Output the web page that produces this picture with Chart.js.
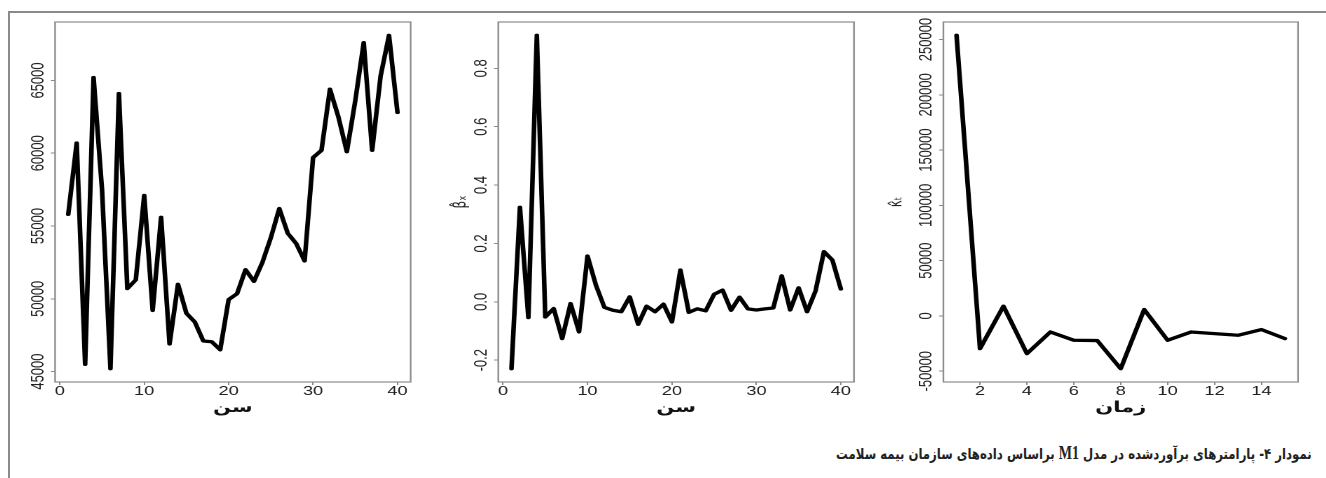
<!DOCTYPE html>
<html lang="fa">
<head>
<meta charset="utf-8">
<script src="https://cdn.jsdelivr.net/npm/chart.js@4.4.0/dist/chart.umd.min.js"></script>
<style>
  html, body { margin: 0; padding: 0; background: #fff; }
  body { width: 1326px; height: 478px; position: relative; overflow: hidden; }
  #frame { position: absolute; left: 8px; top: 11px; right: 0; bottom: 0;
           border-top: 2px solid #8a8a8a; border-left: 2px solid #8a8a8a; }
  .panel { position: absolute; top: 0; height: 430px; transform-origin: 0 0; transform: scaleX(1.4); }
  #caption { position: absolute; right: 14px; top: 443px; direction: rtl; white-space: nowrap;
             font: bold 15px "DejaVu Sans", sans-serif; color: #222;
             transform-origin: 100% 50%; transform: scaleX(0.78); }
  #caption .m1 { font-family: "Liberation Serif", serif; font-size: 18px; }
</style>
</head>
<body>
<div id="frame"></div>
<div class="panel" id="p1"><canvas></canvas></div>
<div class="panel" id="p2"><canvas></canvas></div>
<div class="panel" id="p3"><canvas></canvas></div>
<div id="caption">نمودار ۴- پارامترهای برآوردشده در مدل <span class="m1">M1</span> براساس داده‌های سازمان بیمه سلامت</div>
<script>
// ages 1..40 and years 1..15
const ages = [1, 2, 3, 4, 5, 6, 7, 8, 9, 10, 11, 12, 13, 14, 15, 16, 17, 18, 19, 20,
              21, 22, 23, 24, 25, 26, 27, 28, 29, 30, 31, 32, 33, 34, 35, 36, 37, 38, 39, 40];
const times = [1, 2, 3, 4, 5, 6, 7, 8, 9, 10, 11, 12, 13, 14, 15];

// alpha_x
const alphaX = [55800, 60700, 45500, 65200, 57500, 45200, 64100, 50700, 51300, 57100,
                49200, 55600, 46900, 51000, 49000, 48400, 47100, 47050, 46500, 49950,
                50350, 52000, 51200, 52500, 54200, 56200, 54500, 53800, 52600, 59700,
                60200, 64400, 62500, 60100, 63600, 67600, 60200, 65300, 68100, 62800];

// beta_x (middle panel)
const betaX = [-0.229, 0.324, -0.054, 0.913, -0.052, -0.023, -0.126, -0.006, -0.103, 0.157,
               0.057, -0.019, -0.029, -0.034, 0.017, -0.077, -0.015, -0.034, -0.008, -0.069,
               0.109, -0.036, -0.024, -0.031, 0.026, 0.040, -0.029, 0.016, -0.024, -0.028,
               -0.024, -0.021, 0.089, -0.028, 0.048, -0.034, 0.037, 0.172, 0.143, 0.044];

// kappa_t (right panel)
const kappaT = [253800, -29600, 8800, -34100, -14500, -22000, -22300, -47700, 5800, -22000,
                -14500, -16000, -17500, -12300, -20500];

// tick labels
const ageTicks = [0, 10, 20, 30, 40];
const timeTicks = [2, 4, 6, 8, 10, 12, 14];
const alphaTicks = [45000, 50000, 55000, 60000, 65000];
const betaTicks = [-0.2, 0.0, 0.2, 0.4, 0.6, 0.8];
const kappaTicks = [-50000, 0, 50000, 100000, 150000, 200000, 250000];

const S = 1.4; // the source figure is stretched sideways, so each panel is too

// R style axis range: data range plus 4% each side
function rRange(vals) {
  const lo = Math.min(...vals), hi = Math.max(...vals), d = (hi - lo) * 0.04;
  return [lo - d, hi + d];
}

const panels = [
  { id: 'p1', left: 12, right: 440, plotLeft: 55, plotRight: 410,
    xs: ages, ys: alphaX, xTicks: ageTicks, yTicks: alphaTicks, fmt: v => String(v),
    xTitle: 'سن', yTitle: '', titlePad: 0 },
  { id: 'p2', left: 446, right: 880, plotLeft: 498.3, plotRight: 854,
    xs: ages, ys: betaX, xTicks: ageTicks, yTicks: betaTicks, fmt: v => v.toFixed(1),
    xTitle: 'سن', yTitle: 'β̂ₓ', titlePad: 3.9 },
  { id: 'p3', left: 881, right: 1320, plotLeft: 943.3, plotRight: 1297.3,
    xs: times, ys: kappaT, xTicks: timeTicks, yTicks: kappaTicks, fmt: v => String(v),
    xTitle: 'زمان', yTitle: 'κ̂ₜ', titlePad: 4 }
];

function boxPlugin(fmt) {
  return {
    id: 'rBox',
    afterDraw(chart) {
      const { ctx, chartArea: a } = chart;
      const y = chart.scales.y;
      ctx.save();
      ctx.strokeStyle = '#8c8c8c';
      ctx.lineWidth = 1.2;
      ctx.strokeRect(a.left, a.top, a.right - a.left, a.bottom - a.top);
      // y tick labels run along the axis, as R draws them
      ctx.fillStyle = '#222';
      ctx.font = '13px "Liberation Sans", Arial, sans-serif';
      ctx.textAlign = 'center';
      ctx.textBaseline = 'alphabetic';
      y.ticks.forEach(t => {
        ctx.save();
        ctx.translate(a.left - 8.4, y.getPixelForValue(t.value));
        ctx.rotate(-Math.PI / 2);
        ctx.fillText(fmt(t.value), 0, 0);
        ctx.restore();
      });
      ctx.restore();
    }
  };
}

function makePanel(p) {
  const box = document.getElementById(p.id);
  const w = (p.right - p.left) / S;
  box.style.left = p.left + 'px';
  box.style.width = w + 'px';
  const yw = (p.plotLeft - p.left) / S;
  const cw = (p.plotRight - p.plotLeft) / S;
  const xr = rRange(p.xs), yr = rRange(p.ys);

  new Chart(box.querySelector('canvas'), {
    type: 'line',
    data: {
      datasets: [{
        data: p.xs.map((x, i) => ({ x: x, y: p.ys[i] })),
        borderColor: '#000',
        borderWidth: 3.3,
        borderJoinStyle: 'round',
        borderCapStyle: 'round',
        pointRadius: 0,
        tension: 0,
        fill: false
      }]
    },
    options: {
      responsive: true,
      maintainAspectRatio: false,
      animation: false,
      devicePixelRatio: 2,
      layout: { padding: { top: 22, right: w - yw - cw, left: 0, bottom: 0 } },
      plugins: { legend: { display: false }, tooltip: { enabled: false } },
      scales: {
        x: {
          type: 'linear', min: xr[0], max: xr[1],
          afterBuildTicks: s => { s.ticks = p.xTicks.map(v => ({ value: v })); },
          afterFit: s => { s.height = 48; },
          grid: { drawOnChartArea: false, drawTicks: true, tickLength: 3, color: '#888' },
          border: { display: false },
          ticks: { padding: 0, color: '#222', maxRotation: 0, autoSkip: false,
                   font: { family: 'Liberation Sans', size: 13, lineHeight: 1 },
                   callback: v => String(v) },
          title: { display: true, text: p.xTitle, color: '#111',
                   font: { family: 'DejaVu Sans', size: 15, weight: 'bold', lineHeight: 1.2 },
                   padding: { top: 0, bottom: 13 } }
        },
        y: {
          type: 'linear', min: yr[0], max: yr[1],
          afterBuildTicks: s => { s.ticks = p.yTicks.map(v => ({ value: v })); },
          afterFit: s => { s.width = yw; },
          grid: { drawOnChartArea: false, drawTicks: true, tickLength: 3, color: '#888' },
          border: { display: false },
          ticks: { display: false },
          title: { display: p.yTitle !== '', text: p.yTitle, color: '#222',
                   font: { family: 'DejaVu Sans', size: 12, lineHeight: 1.2 },
                   padding: { top: p.titlePad, bottom: 0 } }
        }
      }
    },
    plugins: [boxPlugin(p.fmt)]
  });
}

panels.forEach(makePanel);
</script>
</body>
</html>
